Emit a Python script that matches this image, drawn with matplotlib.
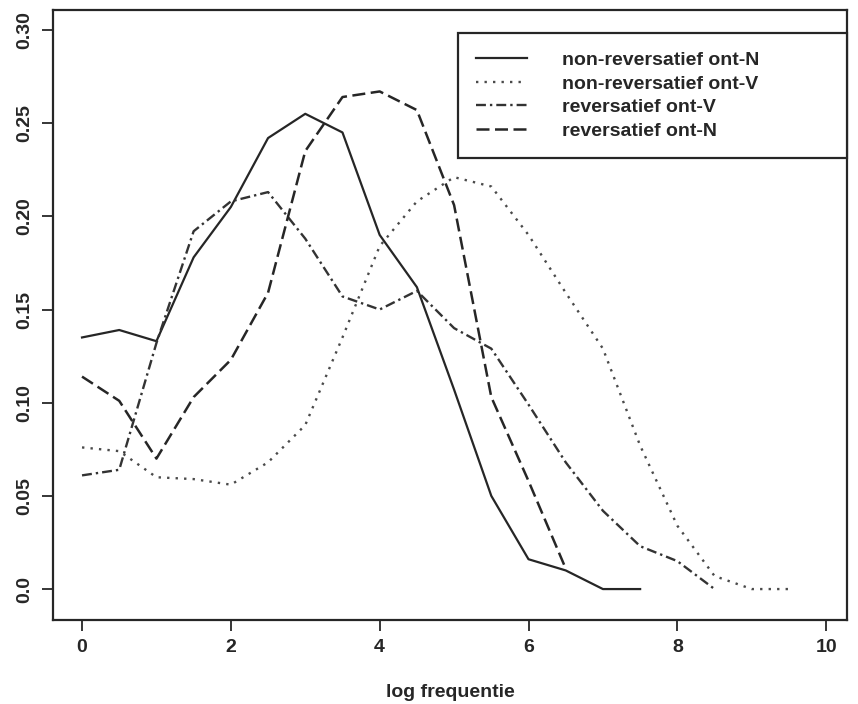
import matplotlib
matplotlib.use("Agg")
import matplotlib.pyplot as plt

plt.rcParams['font.family'] = ['Liberation Sans', 'DejaVu Sans']
plt.rcParams['font.weight'] = 'bold'
plt.rcParams['axes.labelweight'] = 'bold'

# ---- data ----
x_nonrev_N = [0.0, 0.5, 1.0, 1.5, 2.0, 2.5, 3.0, 3.5, 4.0, 4.5, 5.0, 5.5, 6.0, 6.5, 7.0, 7.5]
y_nonrev_N = [0.135, 0.139, 0.133, 0.178, 0.205, 0.242, 0.255, 0.245, 0.190, 0.162,
              0.107, 0.050, 0.016, 0.010, 0.0, 0.0]

x_nonrev_V = [0.0, 0.5, 1.0, 1.5, 2.0, 2.5, 3.0, 3.5, 4.0, 4.5, 5.0, 5.5, 6.0, 6.5,
              7.0, 7.5, 8.0, 8.5, 9.0, 9.5]
y_nonrev_V = [0.076, 0.074, 0.060, 0.059, 0.056, 0.068, 0.088, 0.135, 0.184, 0.208,
              0.221, 0.216, 0.190, 0.159, 0.129, 0.077, 0.034, 0.007, 0.0, 0.0]

x_rev_V = [0.0, 0.5, 1.0, 1.5, 2.0, 2.5, 3.0, 3.5, 4.0, 4.5, 5.0, 5.5, 6.0, 6.5,
           7.0, 7.5, 8.0, 8.5]
y_rev_V = [0.061, 0.064, 0.132, 0.192, 0.208, 0.213, 0.188, 0.157, 0.150, 0.160,
           0.140, 0.129, 0.099, 0.068, 0.042, 0.023, 0.015, 0.0]

x_rev_N = [0.0, 0.5, 1.0, 1.5, 2.0, 2.5, 3.0, 3.5, 4.0, 4.5, 5.0, 5.5, 6.0, 6.5]
y_rev_N = [0.114, 0.101, 0.070, 0.103, 0.123, 0.159, 0.235, 0.264, 0.267, 0.257,
           0.206, 0.103, 0.058, 0.011]

labels = ["non-reversatief ont-N", "non-reversatief ont-V",
          "reversatief ont-V", "reversatief ont-N"]
x_ticks = [0, 2, 4, 6, 8, 10]
y_ticks = [0.0, 0.05, 0.10, 0.15, 0.20, 0.25, 0.30]
y_ticklabels = ["0.0", "0.05", "0.10", "0.15", "0.20", "0.25", "0.30"]
x_label = "log frequentie"

# ---- figure ----
fig = plt.figure(figsize=(8.58, 7.04), dpi=100)
ax = fig.add_axes([53 / 858, 1 - 620 / 704, 794 / 858, 610 / 704])

ink = "#262626"
l1, = ax.plot(x_nonrev_N, y_nonrev_N, color=ink, lw=1.6, ls="-", label=labels[0])
l2, = ax.plot(x_nonrev_V, y_nonrev_V, color="#4a4a4a", lw=1.7, label=labels[1])
l2.set_dashes((1, 2.6))
l3, = ax.plot(x_rev_V, y_rev_V, color="#333333", lw=1.7, label=labels[2])
l3.set_dashes((4.2, 1.7, 1, 1.7))
l4, = ax.plot(x_rev_N, y_rev_N, color=ink, lw=1.8, label=labels[3])
l4.set_dashes((5.2, 2.2))

ax.set_xlim(-0.39, 10.28)
ax.set_ylim(-0.0166, 0.3107)

ax.set_xticks(x_ticks)
ax.set_xticklabels([str(t) for t in x_ticks])
ax.set_yticks(y_ticks)
ax.set_yticklabels(y_ticklabels, rotation=90, va="center")

ax.tick_params(direction="out", length=8, width=1.3, colors=ink, labelsize=14, pad=6)
for s in ax.spines.values():
    s.set_linewidth(1.6)
    s.set_color(ink)

ax.set_xlabel(x_label, fontsize=14, color=ink, fontweight="bold", labelpad=20)

leg = ax.legend(handles=[l1, l2, l3, l4], loc="upper left",
                bbox_to_anchor=(0.510, 0.0, 0.49, 0.962), mode="expand",
                fontsize=14, frameon=True, fancybox=False, framealpha=1,
                edgecolor=ink, handlelength=2.6, handletextpad=1.8,
                labelspacing=0.3, borderpad=0.95, borderaxespad=0.0)
leg.get_frame().set_linewidth(1.6)
for t in leg.get_texts():
    t.set_color(ink)

fig.savefig("out.png", dpi=100)
